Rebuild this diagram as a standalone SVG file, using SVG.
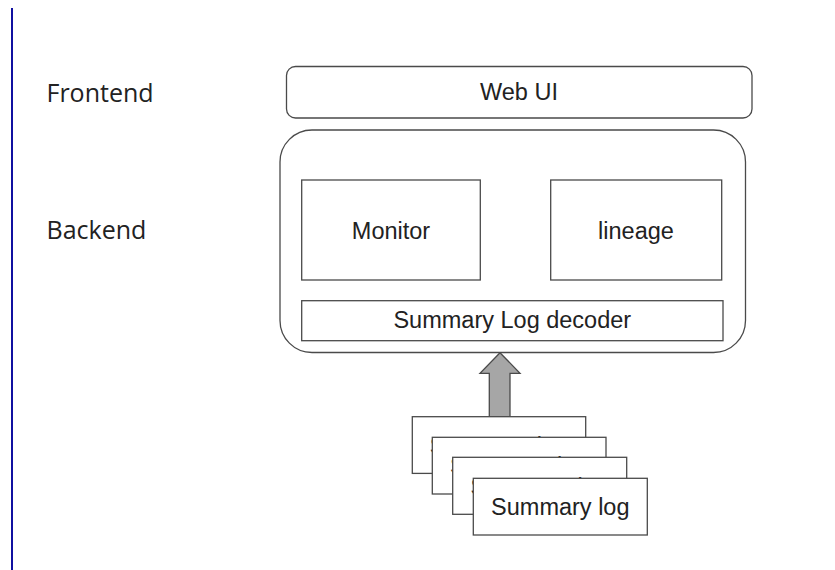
<svg xmlns="http://www.w3.org/2000/svg" width="835" height="570" viewBox="0 0 835 570">
<style>
.box{fill:#fff;stroke:#4a4a4a;stroke-width:1.3}
.t{font-family:"Liberation Sans",Arial,sans-serif;font-size:23.5px;fill:#222;text-anchor:middle}
.lab{font-family:"Open Sans","Noto Sans",sans-serif;font-size:25px;fill:#222}
</style>
<rect width="835" height="570" fill="#fff"/>
<line x1="12" y1="8" x2="12" y2="570" stroke="#1010a0" stroke-width="2"/>
<g id="label-frontend"><text class="lab" x="46.5" y="101.5">Frontend</text></g>
<g id="label-backend"><text class="lab" x="46.5" y="238.5">Backend</text></g>
<g id="webui"><rect class="box" x="286.5" y="66.5" width="465.5" height="51.5" rx="9"/><text class="t" x="519" y="99.5">Web UI</text></g>
<g id="backend"><rect class="box" x="280" y="130" width="465.5" height="222.5" rx="32" stroke="#666"/></g>
<g id="monitor"><rect class="box" x="301.7" y="180" width="178.6" height="100"/><text class="t" x="391" y="238.5">Monitor</text></g>
<g id="lineage"><rect class="box" x="550.7" y="180" width="171" height="100"/><text class="t" x="636" y="238.5">lineage</text></g>
<g id="decoder"><rect class="box" x="301.7" y="300.7" width="421.3" height="40"/><text class="t" x="512.3" y="327.5">Summary Log decoder</text></g>
<g id="connectors"><polygon points="500,352.7 520,373.3 510,373.3 510,416.7 489.3,416.7 489.3,373.3 480,373.3" fill="#a6a6a6" stroke="#4a4a4a" stroke-width="1.3"/></g>
<g id="log1"><rect class="box" x="412.3" y="416.7" width="173.4" height="56.7"/><text class="t" x="499" y="453.5">Summary log</text></g>
<g id="log2"><rect class="box" x="432.3" y="437.3" width="173.7" height="56.7"/><text class="t" x="519.2" y="474">Summary log</text></g>
<g id="log3"><rect class="box" x="452.7" y="457.3" width="174" height="57"/><text class="t" x="539.7" y="494.5">Summary log</text></g>
<g id="log4"><rect class="box" x="473.3" y="478.3" width="174" height="56.7"/><text class="t" x="560.3" y="515">Summary log</text></g>
</svg>
